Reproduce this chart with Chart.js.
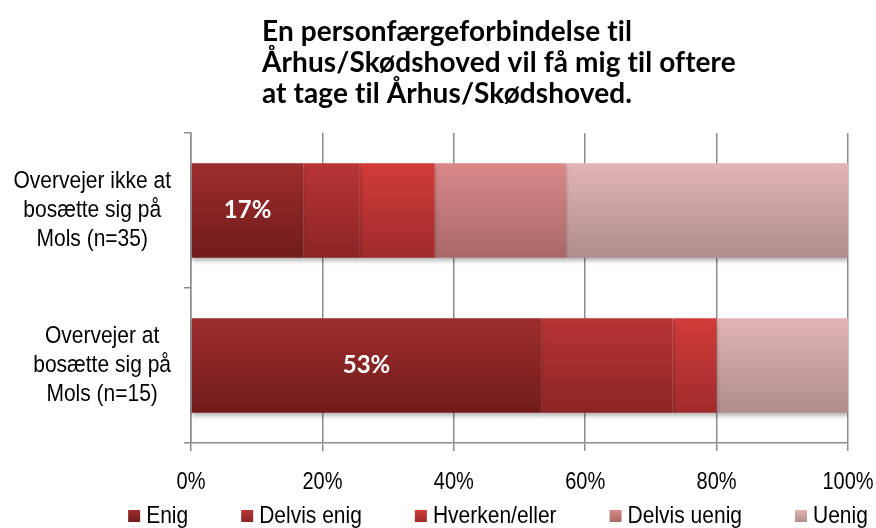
<!DOCTYPE html>
<html>
<head>
<meta charset="utf-8">
<script src="https://cdn.jsdelivr.net/npm/chart.js@4.4.1/dist/chart.umd.min.js"></script>
<style>
  html, body { margin: 0; padding: 0; background: #fff; }
  #wrap { width: 876px; height: 528px; position: relative; }
</style>
</head>
<body>
<div id="wrap"><canvas id="chart"></canvas></div>
<script>
// Chart data
const titleLines = ['En personfærgeforbindelse til', 'Århus/Skødshoved vil få mig til oftere', 'at tage til Århus/Skødshoved.'];
const categories = [
    ['Overvejer ikke at', 'bosætte sig på', 'Mols (n=35)'],
    ['Overvejer at', 'bosætte sig på', 'Mols (n=15)']
];
const seriesNames = ['Enig', 'Delvis enig', 'Hverken/eller', 'Delvis uenig', 'Uenig'];
const enig = [17.1, 53.3];
const delvisEnig = [8.6, 20.0];
const hverken = [11.4, 6.7];
const delvisUenig = [20.0, 0];
const uenig = [42.9, 20.0];
const xTicks = [0, 20, 40, 60, 80, 100];

// top / bottom colours of the gradient fill for each series
const topColors = ['#9d2d2d', '#b83535', '#d03c3a', '#da8888', '#e3b5b5'];
const bottomColors = ['#721b1b', '#8c2424', '#a02b2b', '#a86868', '#b08c8c'];

const labelFont = "'Liberation Sans', Arial, sans-serif";
const titleFont = "Lato, 'Open Sans', sans-serif";
const BAR_PCT = 0.61;
const STRETCH = 1.17; // the original's axis text is drawn taller than it is wide

function gradientFill(i) {
    return (ctx) => {
        const chart = ctx.chart;
        const y = chart.scales && chart.scales.y;
        if (!chart.chartArea || !y || ctx.dataIndex === undefined) return topColors[i];
        const center = y.getPixelForValue(ctx.dataIndex);
        const half = (y.height / categories.length) * BAR_PCT / 2;
        const g = chart.ctx.createLinearGradient(0, center - half, 0, center + half);
        g.addColorStop(0, topColors[i]);
        g.addColorStop(1, bottomColors[i]);
        return g;
    };
}

function tallText(c, txt, x, y) {
    c.save();
    c.translate(x, y);
    c.scale(1, STRETCH);
    c.fillText(txt, 0, 0);
    c.restore();
}

const allSeries = [enig, delvisEnig, hverken, delvisUenig, uenig];

// Title drawn left aligned as in the original
const titlePlugin = {
    id: 'leftTitle',
    afterDraw(chart) {
        const c = chart.ctx;
        c.save();
        c.fillStyle = '#000';
        c.font = 'bold 28px ' + titleFont;
        c.letterSpacing = '0.1px'; // keeps Lato from using its "ti" ligature
        c.textBaseline = 'alphabetic';
        c.textAlign = 'left';
        titleLines.forEach((t, k) => c.fillText(t, 262, 41 + k * 31));
        c.restore();
    }
};

// axis labels: x percentages and the wrapped category names
const axisText = {
    id: 'axisText',
    afterDraw(chart) {
        const c = chart.ctx;
        const xs = chart.scales.x, ys = chart.scales.y;
        c.save();
        c.fillStyle = '#000';
        c.textBaseline = 'middle';
        c.textAlign = 'center';
        c.font = '20px ' + labelFont;
        xTicks.forEach(v => tallText(c, v + '%', xs.getPixelForValue(v), xs.top + 40));

        c.font = '21px ' + labelFont;
        const right = ys.right - 7 - 13;
        categories.forEach((lines, i) => {
            const widest = Math.max(...lines.map(l => c.measureText(l).width));
            const cx = right - widest / 2;
            const cy = ys.getPixelForValue(i);
            lines.forEach((l, k) => tallText(c, l, cx, cy + (k - (lines.length - 1) / 2) * 29));
        });
        c.restore();
    }
};

// legend row at the bottom, spaced like the original
const bottomLegend = {
    id: 'bottomLegend',
    afterDraw(chart) {
        const c = chart.ctx;
        const box = 12, gapText = 6, gapItem = 53, cy = 516;
        c.save();
        c.font = '21px ' + labelFont;
        const widths = seriesNames.map(n => c.measureText(n).width);
        const total = widths.reduce((a, w) => a + box + gapText + w, 0) + gapItem * (seriesNames.length - 1);
        let x = 498 - total / 2;
        c.textBaseline = 'middle';
        c.textAlign = 'left';
        seriesNames.forEach((n, i) => {
            const g = c.createLinearGradient(0, cy - box / 2, 0, cy + box / 2);
            g.addColorStop(0, topColors[i]);
            g.addColorStop(1, bottomColors[i]);
            c.fillStyle = g;
            c.fillRect(x, cy - box / 2, box, box);
            c.fillStyle = '#000';
            tallText(c, n, x + box + gapText, cy);
            x += box + gapText + widths[i] + gapItem;
        });
        c.restore();
    }
};

// soft shadow under the bars
const shadowPlugin = {
    id: 'barShadow',
    beforeDatasetsDraw(chart) {
        const c = chart.ctx;
        c.save();
        c.shadowColor = 'rgba(0,0,0,0.28)';
        c.shadowBlur = 4;
        c.shadowOffsetY = 3;
    },
    afterDatasetsDraw(chart) {
        chart.ctx.restore();
    }
};

// percentage label on the "Enig" segment only
const valueLabels = {
    id: 'valueLabels',
    afterDatasetsDraw(chart) {
        const c = chart.ctx;
        const meta = chart.getDatasetMeta(0);
        c.save();
        c.fillStyle = '#fff';
        c.font = 'bold 24px ' + titleFont;
        c.textAlign = 'center';
        c.textBaseline = 'middle';
        meta.data.forEach((bar, idx) => {
            const cx = (bar.x + bar.base) / 2;
            c.fillText(Math.round(enig[idx]) + '%', cx, bar.y);
        });
        c.restore();
    }
};

const chart = new Chart(document.getElementById('chart'), {
    type: 'bar',
    data: {
        labels: categories,
        datasets: allSeries.map((d, i) => ({
            label: seriesNames[i],
            data: d,
            backgroundColor: gradientFill(i),
            borderWidth: 0,
            barPercentage: BAR_PCT,
            categoryPercentage: 1
        }))
    },
    options: {
        indexAxis: 'y',
        responsive: true,
        maintainAspectRatio: false,
        animation: false,
        layout: { padding: { top: 133, right: 28, left: 12, bottom: 14 } },
        plugins: {
            title: { display: false },
            tooltip: { enabled: false },
            legend: { display: false }
        },
        scales: {
            x: {
                stacked: true,
                min: 0,
                max: 100,
                afterBuildTicks: (s) => { s.ticks = xTicks.map(v => ({ value: v })); },
                afterFit: (s) => { s.height = 71; s.paddingLeft = 0; s.paddingRight = 0; },
                ticks: { display: false },
                grid: { color: '#8c8c8c', lineWidth: 1.5, tickLength: 8 },
                border: { color: '#8c8c8c', width: 1.5 }
            },
            y: {
                stacked: true,
                offset: true,
                afterFit: (s) => { s.width = 179; },
                ticks: { display: false },
                grid: { offset: true, drawOnChartArea: false, color: '#8c8c8c', lineWidth: 1.5, tickLength: 7 },
                border: { color: '#8c8c8c', width: 1.5 }
            }
        }
    },
    plugins: [shadowPlugin, valueLabels, axisText, titlePlugin, bottomLegend]
});
</script>
</body>
</html>
